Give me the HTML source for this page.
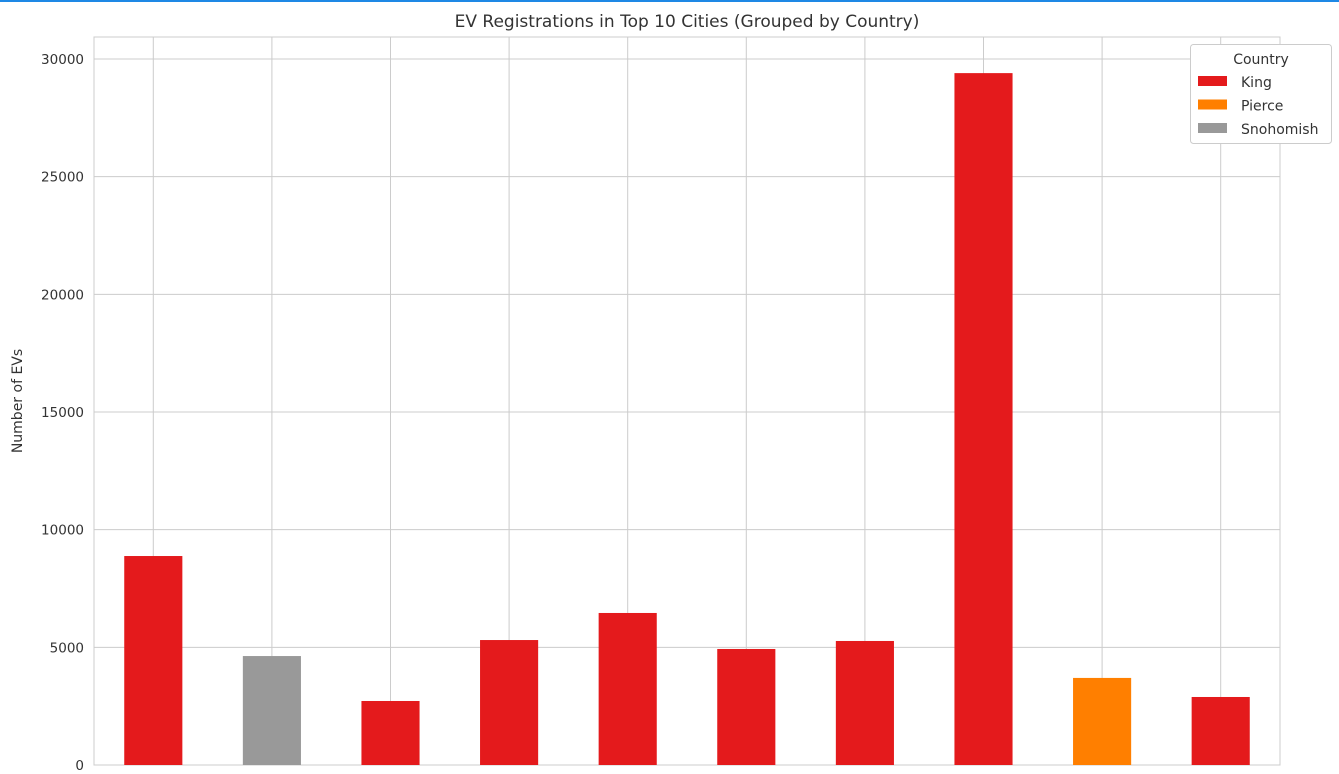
<!DOCTYPE html>
<html><head><meta charset="utf-8"><style>
html,body{margin:0;padding:0;background:#fff;width:1339px;height:774px;overflow:hidden;font-family:"DejaVu Sans","Liberation Sans",sans-serif;}
</style></head><body>
<div style="position:absolute;left:0;top:0;width:1339px;height:2px;background:#1e88e5"></div>
<svg id="chart" width="1339" height="774" style="position:absolute;left:0;top:0;font-family:'DejaVu Sans','Liberation Sans',sans-serif"></svg>
<script>
const categories=["City 1","City 2","City 3","City 4","City 5","City 6","City 7","City 8","City 9","City 10"];
const values=[8880,4630,2720,5310,6460,4930,5270,29400,3700,2890];
const counties=["King","Snohomish","King","King","King","King","King","King","Pierce","King"];
const yTicks=[0,5000,10000,15000,20000,25000,30000];
const legendNames=["King","Pierce","Snohomish"];
const colorMap={King:"#e41a1c",Pierce:"#ff7f00",Snohomish:"#999999"};
const NS="http://www.w3.org/2000/svg";
const svg=document.getElementById('chart');
const L=94,R=1280,T=37,B=765;
function y(v){return B-(v/30000)*(765-59);}
function xc(i){return L+(R-L)/categories.length*(i+0.5);}
function mk(tag,attrs,parent){const e=document.createElementNS(NS,tag);for(const k in attrs)e.setAttribute(k,attrs[k]);(parent||svg).appendChild(e);return e;}
yTicks.forEach(t=>{
  const g=mk('line',{x1:L,x2:R,y1:y(t),y2:y(t),stroke:'#cccccc','stroke-width':1});
  
  
  const tx=mk('text',{x:L-10,y:y(t)+5,'text-anchor':'end','font-size':13.5,fill:'#333'});
  tx.textContent=t;
  
  
});
categories.forEach((c,i)=>{
  const g=mk('line',{x1:xc(i),x2:xc(i),y1:T,y2:B,stroke:'#cccccc','stroke-width':1});
  
  
});
const frame=mk('rect',{x:L,y:T,width:R-L,height:B-T,fill:'none',stroke:'#cccccc','stroke-width':1});


const bw=(R-L)/categories.length*0.49;
values.forEach((v,i)=>{
  const r=mk('rect',{x:xc(i)-bw/2,y:y(v),width:bw,height:B-y(v),fill:colorMap[counties[i]]});
  
  
});
const title=mk('text',{x:(L+R)/2,y:27,'text-anchor':'middle','font-size':17,fill:'#333'});
title.textContent='EV Registrations in Top 10 Cities (Grouped by Country)';


const yl=mk('text',{x:22,y:(T+B)/2,'text-anchor':'middle','font-size':14,fill:'#333',transform:'rotate(-90 22 '+((T+B)/2)+')'});
yl.textContent='Number of EVs';


const lg=mk('g',{});


mk('rect',{x:1190.5,y:44.5,width:141,height:99,rx:3,fill:'#fff',stroke:'#cccccc'},lg);
const lt=mk('text',{x:1261,y:64,'text-anchor':'middle','font-size':14,fill:'#333'},lg);
lt.textContent='Country';
legendNames.forEach((n,i)=>{
  const e=mk('g',{},lg);
  
  
  mk('rect',{x:1198,y:76+i*23.5,width:29,height:10,fill:colorMap[n]},e);
  const t=mk('text',{x:1241,y:87+i*23.5,'font-size':14,fill:'#333'},e);
  t.textContent=n;
});
</script>
</body></html>
